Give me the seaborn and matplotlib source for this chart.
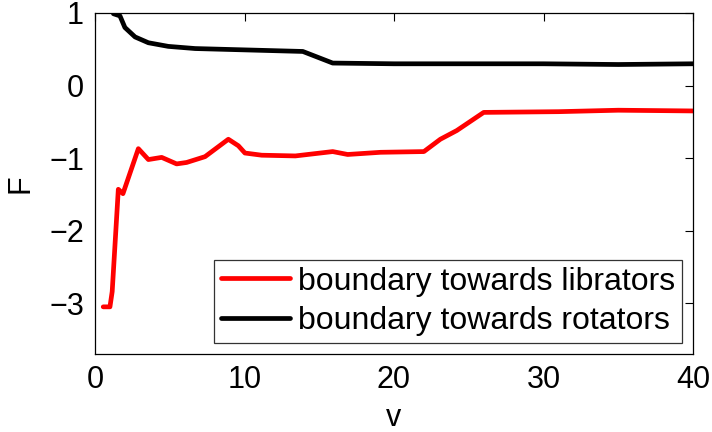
import matplotlib
matplotlib.use("Agg")
import matplotlib.pyplot as plt
import numpy as np
import pandas as pd
import seaborn as sns

# Boundary towards librators
v_lib = [0.55, 1.0, 1.15, 1.56, 1.87, 2.9, 3.57, 4.46, 5.46, 6.13, 7.36, 8.92,
         9.59, 10.03, 11.15, 13.4, 15.9, 16.9, 19.1, 22.0, 23.1, 24.2, 26.0,
         31.0, 35.0, 40.0]
F_lib = [-3.05, -3.05, -2.84, -1.43, -1.49, -0.87, -1.02, -0.99, -1.08, -1.06,
         -0.98, -0.74, -0.83, -0.93, -0.96, -0.97, -0.91, -0.95, -0.92, -0.91,
         -0.74, -0.62, -0.37, -0.36, -0.34, -0.35]

# Boundary towards rotators
v_rot = [1.23, 1.67, 2.0, 2.68, 3.57, 4.9, 6.7, 13.9, 15.9, 20.0, 25.0, 30.0,
         35.0, 40.0]
F_rot = [0.99, 0.96, 0.80, 0.67, 0.59, 0.54, 0.51, 0.47, 0.31, 0.30, 0.30,
         0.30, 0.29, 0.30]

labels = ["boundary towards librators", "boundary towards rotators"]
colors = ["#ff0000", "#000000"]

df = pd.concat([
    pd.DataFrame({"v": v_lib, "F": F_lib, "curve": labels[0]}),
    pd.DataFrame({"v": v_rot, "F": F_rot, "curve": labels[1]}),
])

sns.set_style("white")
plt.rcParams["font.family"] = ["Liberation Sans", "DejaVu Sans"]
plt.rcParams["text.color"] = "black"
plt.rcParams["axes.labelcolor"] = "black"

fig = plt.figure(figsize=(7.12, 4.32), dpi=100)
ax = fig.add_axes([95 / 712, (432 - 354) / 432, (693 - 95) / 712, (354 - 13) / 432])

sns.lineplot(data=df, x="v", y="F", hue="curve", palette=dict(zip(labels, colors)),
             linewidth=3.4, sort=False, estimator=None, ax=ax, legend=False)

ax.set_xlim(0, 40)
ax.set_ylim(-3.7, 1)
ax.set_xticks([0, 10, 20, 30, 40])
ax.set_yticks([-3, -2, -1, 0, 1])
ax.set_yticklabels(["\u22123", "\u22122", "\u22121", "0", "1"])
ax.tick_params(direction="in", length=6, width=0.8, top=True, right=True,
               labelsize=22, pad=8, colors="black")
for s in ax.spines.values():
    s.set_visible(True)
    s.set_color("black")
    s.set_linewidth(0.9)

ax.set_xlabel("v", fontsize=22, labelpad=6)
ax.set_ylabel("F", fontsize=22, labelpad=10)

handles = [plt.Line2D([], [], color=c, linewidth=3.4) for c in colors]
leg = ax.legend(handles, labels, loc="lower right", fontsize=23, frameon=True,
                fancybox=False, edgecolor="black", handlelength=2.15,
                handletextpad=0.25, borderpad=0.22, labelspacing=0.3,
                borderaxespad=0.34)
leg.get_frame().set_linewidth(0.9)
for t in leg.get_texts():
    t.set_color("black")

fig.savefig("out.png", dpi=100, facecolor="white")
